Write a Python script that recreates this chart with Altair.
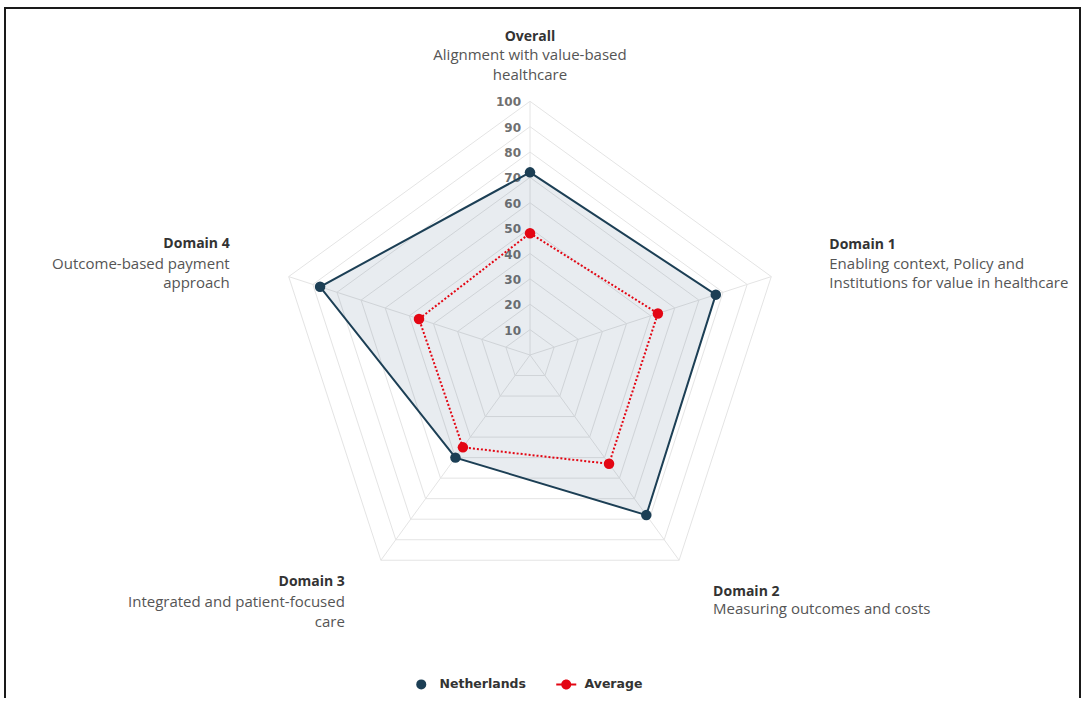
import altair as alt
import pandas as pd

# ---------------- data ----------------
categories = ["Overall", "Domain 1", "Domain 2", "Domain 3", "Domain 4"]
descriptions = [
    ["Alignment with value-based", "healthcare"],
    ["Enabling context, Policy and", "Institutions for value in healthcare"],
    ["Measuring outcomes and costs"],
    ["Integrated and patient-focused", "care"],
    ["Outcome-based payment", "approach"],
]
series_names = ["Netherlands", "Average"]
netherlands = [72, 77, 78, 50, 87]
average = [48, 53, 53, 45, 46]
ticks = [10, 20, 30, 40, 50, 60, 70, 80, 90, 100]

# ---------------- styles ----------------
NL_COLOR = "#1c3f55"
AVG_COLOR = "#e30613"
GRID_COLOR = "#e4e4e4"
TITLE_COLOR = "#333333"
DESC_COLOR = "#555555"
FONT = "Open Sans"

W, H = 1086, 698
K = 2.537            # pixels per unit of value
CX, CY = 530, 355    # centre of the radar in pixels
xdom = [-CX / K, (W - CX) / K]
ydom = [-(H - CY) / K, CY / K]

n = len(categories)

series_df = pd.DataFrame(
    [{"series": s, "idx": i, "category": c, "r": v}
     for s, vals in zip(series_names, [netherlands, average])
     for i, (c, v) in enumerate(zip(categories, vals))]
)
grid_df = pd.DataFrame([{"level": t, "idx": i, "r": t} for t in ticks for i in range(n)])
spoke_df = pd.DataFrame([{"idx": i, "r": max(ticks)} for i in range(n)])
tick_df = pd.DataFrame([{"idx": 0, "r": t, "label": str(t)} for t in ticks])
cat_df = pd.DataFrame(
    [{"idx": i, "category": c, "desc": d, "r": max(ticks)}
     for i, (c, d) in enumerate(zip(categories, descriptions))]
)

X = lambda f: alt.X(f, type="quantitative", scale=alt.Scale(domain=xdom, nice=False, zero=False), axis=None)
Y = lambda f: alt.Y(f, type="quantitative", scale=alt.Scale(domain=ydom, nice=False, zero=False), axis=None)


def polar(ch):
    return ch.transform_calculate(
        ang=f"datum.idx * 2 * PI / {n}"
    ).transform_calculate(
        px="datum.r * sin(datum.ang)",
        py="datum.r * cos(datum.ang)",
        zero="0",
    )


frame = alt.Chart(pd.DataFrame({"a": [0]})).mark_rect(
    filled=False, stroke="#1a1a1a", strokeWidth=2
).encode(
    x=alt.value(5), x2=alt.value(1080), y=alt.value(8), y2=alt.value(780)
)

rings = polar(alt.Chart(grid_df)).mark_line(
    interpolate="linear-closed", color=GRID_COLOR, strokeWidth=1
).encode(x=X("px"), y=Y("py"), detail="level:N", order="idx:O")

spokes = polar(alt.Chart(spoke_df)).mark_rule(color=GRID_COLOR, strokeWidth=1).encode(
    x=X("zero"), y=Y("zero"), x2="px", y2="py"
)

tick_labels = polar(alt.Chart(tick_df)).mark_text(
    align="right", baseline="middle", dx=-9, dy=1, font="DejaVu Sans",
    fontSize=12, fontWeight="bold", color="#707070"
).encode(x=X("px"), y=Y("py"), text="label:N")

nl_line = polar(alt.Chart(series_df)).transform_filter(
    alt.datum.series == "Netherlands"
).mark_line(
    interpolate="linear-closed", stroke=NL_COLOR, strokeWidth=2,
    fill="#2a5676", fillOpacity=0.11
).encode(x=X("px"), y=Y("py"), order="idx:O")

avg_line = polar(alt.Chart(series_df)).transform_filter(
    alt.datum.series == "Average"
).mark_line(
    interpolate="linear-closed", stroke=AVG_COLOR, strokeWidth=2, strokeDash=[2, 2]
).encode(x=X("px"), y=Y("py"), order="idx:O")

avg_symbol = "M-2,-0.2H2V0.2H-2Z M1,0A1,1,0,1,1,-1,0A1,1,0,1,1,1,0Z"

points = polar(alt.Chart(series_df)).mark_point(
    filled=True, size=110, opacity=1
).encode(
    x=X("px"), y=Y("py"),
    color=alt.Color(
        "series:N",
        scale=alt.Scale(domain=series_names, range=[NL_COLOR, AVG_COLOR]),
        legend=alt.Legend(
            title=None, orient="none", direction="horizontal",
            legendX=415, legendY=678,
            labelFont="DejaVu Sans", labelFontSize=12.5, labelFontWeight="bold",
            labelColor="#333333", symbolSize=100,
            symbolType=alt.ExprRef(f"datum.value === 'Average' ? '{avg_symbol}' : 'circle'"),
            labelOffset=12, columnPadding=30,
        ),
    ),
)

label_layout = {
    "Overall": dict(align="center", dx=0, dy_t=-64, dy_d=-53),
    "Domain 1": dict(align="left", dx=58, dy_t=-32, dy_d=-20),
    "Domain 2": dict(align="left", dx=34, dy_t=32, dy_d=42),
    "Domain 3": dict(align="right", dx=-36, dy_t=22, dy_d=35),
    "Domain 4": dict(align="right", dx=-59, dy_t=-33, dy_d=-20),
}

label_layers = []
for c in categories:
    L = label_layout[c]
    base = polar(alt.Chart(cat_df)).transform_filter(alt.datum.category == c)
    label_layers.append(
        base.mark_text(
            align=L["align"], baseline="middle", dx=L["dx"], dy=L["dy_t"],
            font=FONT, fontSize=14, fontWeight="bold", color=TITLE_COLOR
        ).encode(x=X("px"), y=Y("py"), text="category:N")
    )
    label_layers.append(
        base.mark_text(
            align=L["align"], baseline="top", dx=L["dx"], dy=L["dy_d"],
            font=FONT, fontSize=15, lineHeight=19.5, color=DESC_COLOR
        ).encode(x=X("px"), y=Y("py"), text="desc:N")
    )

chart = alt.layer(
    frame, rings, spokes, tick_labels, nl_line, avg_line, points, *label_layers
).properties(
    width=W, height=H, padding=0, autosize="none", background="white"
).configure_view(stroke=None)

chart.save("out.html", embed_options={"renderer": "svg", "actions": False})
